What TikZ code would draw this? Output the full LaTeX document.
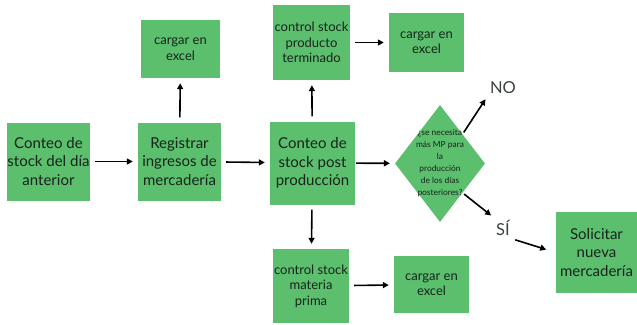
\documentclass[tikz,border=0pt]{standalone}
\usepackage{fontspec}
\setmainfont{Lato}
\usetikzlibrary{arrows.meta,positioning,shapes.geometric}
\definecolor{leaf}{HTML}{5CBF6E}
\definecolor{ink}{HTML}{17231B}
\tikzset{box/.style={fill=leaf,text=ink,align=center,inner sep=0pt},
  big/.style={box,font=\fontsize{15}{18.5}\selectfont},
  small/.style={box,font=\fontsize{13}{15.5}\selectfont},
  go/.style={-{Triangle[length=6pt,width=6pt]},line width=1.6pt,shorten >=5pt,shorten <=5pt}}

\begin{document}
\begin{tikzpicture}[x=1pt,y=-1pt]
\useasboundingbox (0,0) rectangle (637,324);
\node[big,minimum width=83pt,minimum height=78pt] (prev) at (48.5,161.5) {Conteo de\\stock del día\\anterior};
\node[big,minimum width=83pt,minimum height=78pt] (reg) at (179.5,161.5) {Registrar\\ingresos de\\mercadería};
\node[big,minimum width=85pt,minimum height=83pt] (post) at (312.5,163) {Conteo de\\stock post\\producción};
\node[small,minimum width=79pt,minimum height=58pt] (xl1) at (180.5,49) {cargar en\\excel};
\node[small,minimum width=77pt,minimum height=75pt] (pt) at (311.5,42.5) {control stock\\producto\\terminado};
\node[small,minimum width=75pt,minimum height=59pt] (xl2) at (426.5,42.5) {cargar en\\excel};
\node[small,minimum width=76pt,minimum height=74pt] (mp) at (311,286) {control stock\\materia\\prima};
\node[small,minimum width=75pt,minimum height=57pt] (xl3) at (431.5,284.5) {cargar en\\excel};
\node[big,minimum width=81pt,minimum height=81pt] (sol) at (596.5,252.5) {Solicitar\\nueva\\mercadería};
% decision
\node[diamond,fill=leaf,minimum width=90pt,minimum height=117pt,inner sep=0pt,
  label={[text=ink,align=center,font=\fontsize{8.4}{12}\selectfont]center:¿se necesita\\más MP para\\la\\producción\\de los días\\posteriores?}] (ask) at (440,163.5) {};
\node[font=\fontsize{16.5}{16.5}\selectfont,text=ink!85] (no) at (503,88) {NO};
\node[font=\fontsize{16.5}{16.5}\selectfont,text=ink!85] (si) at (503,228) {SÍ};
\draw[go] (prev) -- (reg);
\draw[go] (reg) -- (post);
\draw[go] (reg) -- (xl1);
\draw[go] (post) -- (pt);
\draw[go] (pt) -- (xl2);
\draw[go] (post) -- (mp);
\draw[go] (mp) -- (xl3);
\draw[go,shorten <=1pt] (post) -- (ask);
\draw[go,shorten <=2pt,shorten >=2pt] (ask.north east) -- (no.south west);
\draw[go,shorten <=2pt,shorten >=2pt] (ask.south east) -- (si.north west);
\draw[go,shorten <=2pt,shorten >=10pt] (si.south east) -- (sol.west);
\end{tikzpicture}
\end{document}
